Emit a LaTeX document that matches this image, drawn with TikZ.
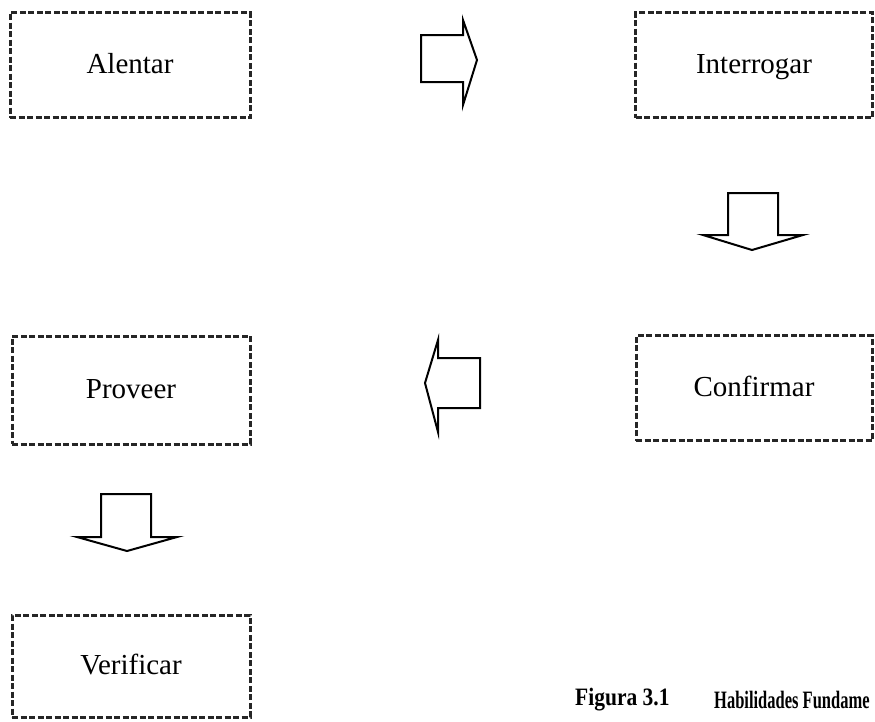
\documentclass[tikz,border=0pt]{standalone}
\usepackage{fontspec}
\setmainfont{Liberation Serif}
\newfontfamily\capfontA[FakeStretch=0.86]{Liberation Serif}
\newfontfamily\capfontB[FakeStretch=0.66]{Liberation Serif}
\begin{document}
\begin{tikzpicture}[x=1pt,y=-1pt,
  box/.style={draw=black!85, line width=3pt, dash pattern=on 6pt off 2.5pt,
    inner sep=0pt, text height=20pt, text depth=4pt, font=\fontsize{29}{33}\selectfont},
  blockarrow/.style={draw=black, line width=2pt, line join=miter, fill=white},
  captext/.style={anchor=west, inner sep=0pt}]
\useasboundingbox (0,0) rectangle (875,721);
\node[box, minimum width=240pt, minimum height=105pt] (alentar) at (130,65) {Alentar};
\node[box, minimum width=237pt, minimum height=105pt] (interrogar) at (754,65) {Interrogar};
\node[box, minimum width=238pt, minimum height=108pt] (proveer) at (131,390) {Proveer};
\node[box, minimum width=236pt, minimum height=105pt] (confirmar) at (754,388) {Confirmar};
\node[box, minimum width=238pt, minimum height=102pt] (verificar) at (131,666) {Verificar};
% block arrows
\draw[blockarrow] (421,35) -- (463,35) -- (463,20) -- (477,60) -- (463,105) -- (463,82) -- (421,82) -- cycle;
\draw[blockarrow] (728,193) -- (778,193) -- (778,235) -- (803,235) -- (752,250) -- (703,235) -- (728,235) -- cycle;
\draw[blockarrow] (480,358) -- (438,358) -- (438,340) -- (425,383) -- (438,432) -- (438,408) -- (480,408) -- cycle;
\draw[blockarrow] (101,494) -- (151,494) -- (151,537) -- (177,537) -- (127,551) -- (77,537) -- (101,537) -- cycle;
% caption
\node[captext, font=\capfontA\bfseries\fontsize{25}{29}\selectfont] (fig) at (575,700) {Figura 3.1};
\node[captext, font=\capfontB\bfseries\fontsize{25}{29}\selectfont] (hab) at (714,700) {Habilidades Fundame};
\end{tikzpicture}
\end{document}
